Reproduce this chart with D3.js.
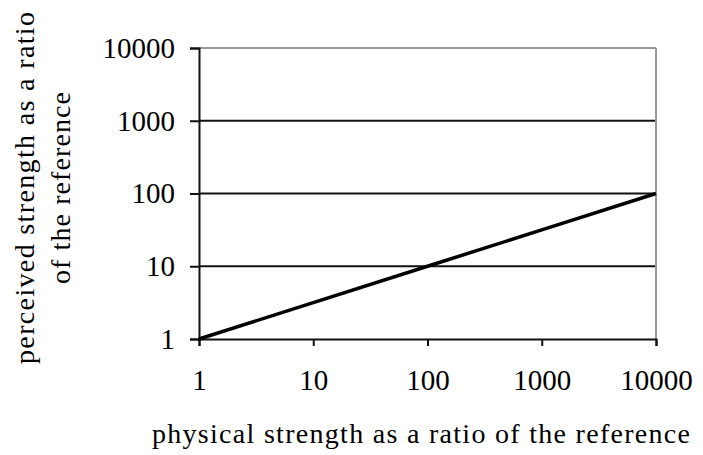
<!DOCTYPE html>
<html>
<head>
<meta charset="utf-8">
<script src="https://cdn.jsdelivr.net/npm/d3@7"></script>
<style>
  html, body { margin: 0; padding: 0; background: #fff; }
  svg { display: block; }
  text { font-family: "Liberation Serif", "Times New Roman", serif; fill: #000; }
</style>
</head>
<body>
<svg id="chart" width="703" height="455"></svg>
<script>
// Physical strength (x) and perceived strength (y), both as ratios of the reference
const physical = [1, 10, 100, 1000, 10000];
const perceived = [1, 3.16, 10, 31.6, 100];
const xTickValues = [1, 10, 100, 1000, 10000];
const yTickValues = [1, 10, 100, 1000, 10000];
const xTitle = "physical strength as a ratio of the reference";
const yTitleLines = ["perceived strength as a ratio", "of the reference"];

const svg = d3.select("#chart");
const margin = { left: 199, right: 47, top: 48, bottom: 116 };
const W = 703, H = 455;

const x = d3.scaleLog().domain([1, 10000]).range([margin.left, W - margin.right]);
const y = d3.scaleLog().domain([1, 10000]).range([H - margin.bottom, margin.top]);

const fmt = d => String(d);

// Horizontal gridlines
svg.append("g")
  .selectAll("line")
  .data(yTickValues.filter(v => v > 1 && v < 10000))
  .join("line")
  .attr("x1", x(1)).attr("x2", x(10000))
  .attr("y1", d => y(d)).attr("y2", d => y(d))
  .attr("stroke", "#111").attr("stroke-width", 2);

// Top and right frame in grey
svg.append("line")
  .attr("x1", x(1)).attr("x2", x(10000))
  .attr("y1", y(10000)).attr("y2", y(10000))
  .attr("stroke", "#999").attr("stroke-width", 2);
svg.append("line")
  .attr("x1", x(10000)).attr("x2", x(10000))
  .attr("y1", y(10000)).attr("y2", y(1))
  .attr("stroke", "#999").attr("stroke-width", 2);

// Y axis
const yAxis = svg.append("g")
  .attr("transform", `translate(${x(1)},0)`)
  .call(d3.axisLeft(y).tickValues(yTickValues).tickFormat(fmt).tickSize(9).tickPadding(15));
yAxis.select(".domain").attr("stroke", "#111").attr("stroke-width", 2);
yAxis.selectAll(".tick line").attr("stroke", "#111").attr("stroke-width", 2);
yAxis.selectAll(".tick text").style("font-size", "29px").attr("font-family", "Liberation Serif, serif");

// X axis
const xAxis = svg.append("g")
  .attr("transform", `translate(0,${y(1)})`)
  .call(d3.axisBottom(x).tickValues(xTickValues).tickFormat(fmt).tickSize(7).tickPadding(23));
xAxis.select(".domain").attr("stroke", "#111").attr("stroke-width", 2);
xAxis.selectAll(".tick line").attr("stroke", "#111").attr("stroke-width", 2);
xAxis.selectAll(".tick text").style("font-size", "29px").attr("font-family", "Liberation Serif, serif");

// Power-law response line
const line = d3.line().x((d, i) => x(physical[i])).y(d => y(d));
svg.append("path")
  .datum(perceived)
  .attr("d", line)
  .attr("fill", "none")
  .attr("stroke", "#000")
  .attr("stroke-width", 3.5);

// Axis titles
svg.append("text")
  .attr("x", 152).attr("y", 443)
  .attr("textLength", 538)
  .attr("lengthAdjust", "spacing")
  .style("font-size", "28px")
  .text(xTitle);

const yTitleWidths = [352, 192];
const yt = svg.append("text")
  .attr("transform", "translate(0,188) rotate(-90)")
  .style("font-size", "28px");
yt.selectAll("tspan")
  .data(yTitleLines)
  .join("tspan")
  .attr("x", (d, i) => -yTitleWidths[i] / 2)
  .attr("y", (d, i) => 34 + i * 36)
  .attr("textLength", (d, i) => yTitleWidths[i])
  .attr("lengthAdjust", "spacing")
  .text(d => d);
</script>
</body>
</html>
